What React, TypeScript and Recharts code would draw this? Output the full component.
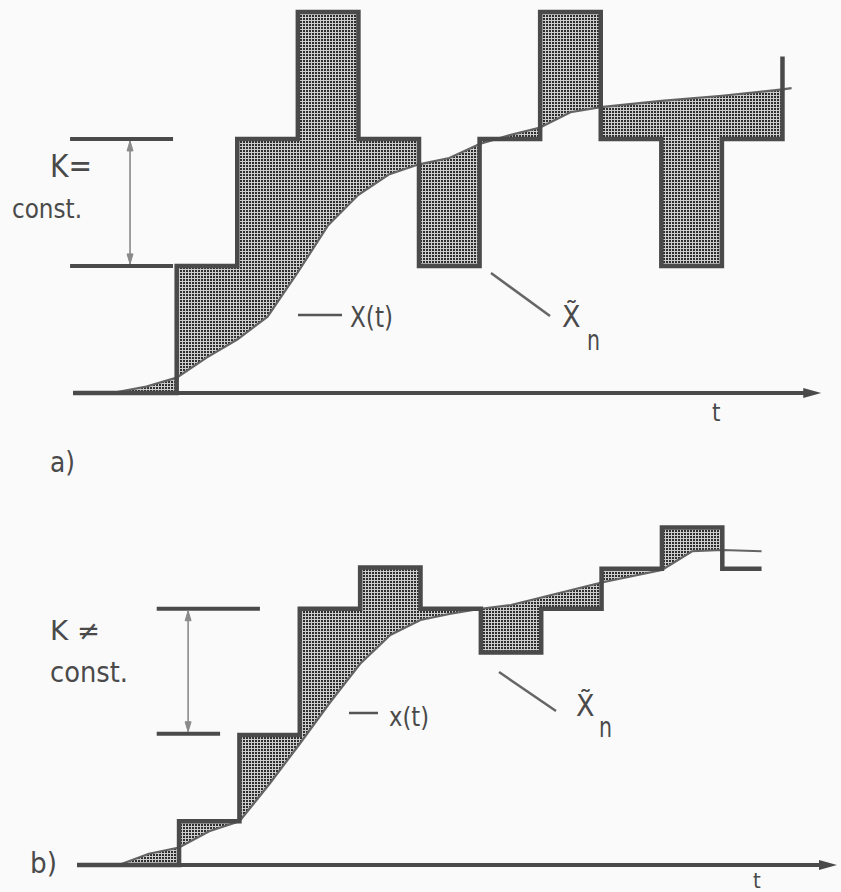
import { ComposedChart, Area, Line, XAxis, YAxis, ReferenceLine } from 'recharts';

// time runs in sampling instants (t = n), amplitudes in units of the step K

// a) K = const.
const stepTimesA = [1, 2, 3, 4, 5, 6, 7, 8, 9, 10, 11];
const levelsA = [1, 2, 3, 2, 1, 2, 3, 2, 1, 2, 2.65];
const curveTimesA = [-0.05, 0.5, 1, 1.5, 2, 2.5, 3, 3.5, 4, 4.5, 5, 5.5, 6, 6.5, 7, 7.5, 8, 9, 10, 11, 11.15];
const curveA = [0, 0.05, 0.12, 0.28, 0.42, 0.6, 0.95, 1.32, 1.56, 1.72, 1.8, 1.85, 1.96, 2.03, 2.09, 2.21, 2.25, 2.3, 2.34, 2.39, 2.4];

// b) K != const.
const stepTimesB = [1, 2, 3, 4, 5, 6, 7, 8, 9, 10];
const levelsB = [0.35, 1.04, 2.05, 2.38, 2.05, 1.7, 2.05, 2.37, 2.7, 2.37];
const curveTimesB = [0, 0.5, 1, 1.5, 2, 2.5, 3, 3.5, 4, 4.5, 5, 5.5, 6, 6.5, 7, 7.5, 8, 8.5, 9, 9.5, 10, 10.65];
const curveB = [0, 0.09, 0.14, 0.27, 0.35, 0.65, 0.97, 1.3, 1.61, 1.84, 1.96, 2.01, 2.05, 2.08, 2.14, 2.2, 2.26, 2.31, 2.36, 2.51, 2.52, 2.51];

const T_DOMAIN: [number, number] = [-1.9, 11.9];
const INK = '#4a4a4a';
const FONT = "'DejaVu Sans Condensed', 'DejaVu Sans', sans-serif";

const levelAt = (times: number[], levels: number[], t: number) => {
  let v = 0;
  times.forEach((s, i) => {
    if (t >= s) v = levels[i];
  });
  return v;
};

function stepRows(times: number[], levels: number[], start: number, end: number) {
  const rows = [{ t: start, v: 0 }];
  let prev = 0;
  times.forEach((s, i) => {
    rows.push({ t: s, v: prev });
    rows.push({ t: s, v: levels[i] });
    prev = levels[i];
  });
  if (end > times[times.length - 1]) rows.push({ t: end, v: prev });
  return rows;
}

// area between the held value x~n and x(t)
function bandRows(curveT: number[], curveV: number[], times: number[], levels: number[], shadeEnd: number) {
  const rows: { t: number; band: number[] }[] = [];
  curveT.forEach((t, i) => {
    if (t > shadeEnd) return;
    const x = curveV[i];
    const k = times.indexOf(t);
    if (k >= 0) {
      rows.push({ t, band: [k === 0 ? 0 : levels[k - 1], x] });
      if (t < shadeEnd) rows.push({ t, band: [levels[k], x] });
    } else {
      rows.push({ t, band: [levelAt(times, levels, t), x] });
    }
  });
  return rows;
}

const curveRows = (ts: number[], vs: number[]) => ts.map((t, i) => ({ t, v: vs[i] }));

const AxisArrow = (p: any) => (
  <g>
    <line x1={p.x1} y1={p.y1} x2={p.x2 - 12} y2={p.y2} stroke={INK} strokeWidth={4} />
    <polygon points={`${p.x2},${p.y2} ${p.x2 - 18},${p.y2 - 5} ${p.x2 - 18},${p.y2 + 5}`} fill={INK} />
  </g>
);

const DoubleArrow = (p: any) => {
  const top = Math.min(p.y1, p.y2);
  const bot = Math.max(p.y1, p.y2);
  return (
    <g stroke="#8a8a8a" fill="#8a8a8a">
      <line x1={p.x1} y1={top + 2} x2={p.x1} y2={bot - 2} strokeWidth={1.6} />
      <polygon points={`${p.x1},${top + 2} ${p.x1 - 3},${top + 12} ${p.x1 + 3},${top + 12}`} />
      <polygon points={`${p.x1},${bot - 2} ${p.x1 - 3},${bot - 12} ${p.x1 + 3},${bot - 12}`} />
    </g>
  );
};

interface PanelProps {
  id: string;
  top: number;
  height: number;
  left: number;
  right: number;
  yDomain: [number, number];
  steps: { t: number; v: number }[];
  curve: { t: number; v: number }[];
  band: { t: number; band: number[] }[];
  axis: [number, number];
  bracketTop: [number, number, number];
  bracketBottom: [number, number, number];
  arrowX: number;
}

function Panel(p: PanelProps) {
  return (
    <div style={{ position: 'absolute', left: 0, top: p.top }}>
      <ComposedChart width={841} height={p.height} margin={{ top: 0, right: p.right, bottom: 0, left: p.left }}>
        <defs>
          <pattern id={p.id} width={3} height={3} patternUnits="userSpaceOnUse">
            <rect width={3} height={3} fill="#cdcdcd" />
            <rect width={2} height={2} fill="#2e2e2e" />
          </pattern>
        </defs>
        <XAxis type="number" dataKey="t" domain={T_DOMAIN} hide allowDataOverflow />
        <YAxis type="number" domain={p.yDomain} hide allowDataOverflow />
        <Area
          data={p.band}
          dataKey="band"
          type="linear"
          stroke="none"
          fill={`url(#${p.id})`}
          fillOpacity={1}
          isAnimationActive={false}
        />
        <ReferenceLine segment={[{ x: p.axis[0], y: 0 }, { x: p.axis[1], y: 0 }]} shape={AxisArrow} />
        <Line
          data={p.curve}
          dataKey="v"
          type="linear"
          stroke="#646464"
          strokeWidth={2.2}
          dot={false}
          activeDot={false}
          isAnimationActive={false}
        />
        <Line
          data={p.steps}
          dataKey="v"
          type="linear"
          stroke={INK}
          strokeWidth={4.5}
          dot={false}
          activeDot={false}
          isAnimationActive={false}
        />
        <ReferenceLine
          segment={[{ x: p.bracketTop[0], y: p.bracketTop[2] }, { x: p.bracketTop[1], y: p.bracketTop[2] }]}
          stroke={INK}
          strokeWidth={4}
        />
        <ReferenceLine
          segment={[{ x: p.bracketBottom[0], y: p.bracketBottom[2] }, { x: p.bracketBottom[1], y: p.bracketBottom[2] }]}
          stroke={INK}
          strokeWidth={4}
        />
        <ReferenceLine
          segment={[{ x: p.arrowX, y: p.bracketTop[2] }, { x: p.arrowX, y: p.bracketBottom[2] }]}
          shape={DoubleArrow}
        />
      </ComposedChart>
    </div>
  );
}

const Txt = ({ x, y, size, w, children }: { x: number; y: number; size: number; w?: number; children: string }) => (
  <text
    x={x}
    y={y}
    fontSize={size}
    textLength={w}
    lengthAdjust={w ? 'spacingAndGlyphs' : undefined}
    fill="#4a4a4a"
    fontFamily={FONT}
  >
    {children}
  </text>
);

export default function App() {
  return (
    <div style={{ position: 'absolute', left: 0, top: 0, width: 841, height: 892, background: '#fafafa', overflow: 'hidden' }}>
      <Panel
        id="dotsA"
        top={0}
        height={431}
        left={1}
        right={4}
        yDomain={[-0.3, 3.094]}
        steps={stepRows(stepTimesA, levelsA, -0.71, 11)}
        curve={curveRows(curveTimesA, curveA)}
        band={bandRows(curveTimesA, curveA, stepTimesA, levelsA, 11)}
        axis={[-0.71, 11.64]}
        bracketTop={[-0.76, 0.94, 2]}
        bracketBottom={[-0.76, 0.94, 1]}
        arrowX={0.23}
      />
      <Panel
        id="dotsB"
        top={440}
        height={452}
        left={4}
        right={4}
        yDomain={[-0.216, 3.4]}
        steps={stepRows(stepTimesB, levelsB, -0.69, 10.65)}
        curve={curveRows(curveTimesB, curveB)}
        band={bandRows(curveTimesB, curveB, stepTimesB, levelsB, 10)}
        axis={[-0.69, 11.9]}
        bracketTop={[0.63, 2.34, 2.05]}
        bracketBottom={[0.63, 1.68, 1.05]}
        arrowX={1.15}
      />
      <svg width={841} height={892} style={{ position: 'absolute', left: 0, top: 0, pointerEvents: 'none' }}>
        {/* a) */}
        <Txt x={50} y={177} size={32} w={42}>K=</Txt>
        <Txt x={12} y={218} size={27} w={70}>const.</Txt>
        <line x1={298} y1={315} x2={342} y2={315} stroke="#555" strokeWidth={2.5} />
        <Txt x={350} y={327} size={29} w={43}>X(t)</Txt>
        <line x1={491} y1={273} x2={550} y2={316} stroke="#666" strokeWidth={2.5} />
        <Txt x={562} y={327} size={30}>{'X\u0303'}</Txt>
        <Txt x={587} y={350} size={29} w={13}>n</Txt>
        <Txt x={712} y={421} size={24}>t</Txt>
        <Txt x={50} y={472} size={28} w={25}>a)</Txt>
        {/* b) */}
        <Txt x={50} y={640} size={27} w={50}>K ≠</Txt>
        <Txt x={50} y={682} size={28} w={78}>const.</Txt>
        <line x1={349} y1={713} x2={378} y2={713} stroke="#555" strokeWidth={2.5} />
        <Txt x={389} y={726} size={27} w={40}>x(t)</Txt>
        <line x1={499} y1={672} x2={556} y2={711} stroke="#666" strokeWidth={2.5} />
        <Txt x={576} y={716} size={30}>{'X\u0303'}</Txt>
        <Txt x={599} y={737} size={29} w={13}>n</Txt>
        <Txt x={753} y={888} size={22}>t</Txt>
        <Txt x={30} y={873} size={28} w={27}>b)</Txt>
      </svg>
    </div>
  );
}
